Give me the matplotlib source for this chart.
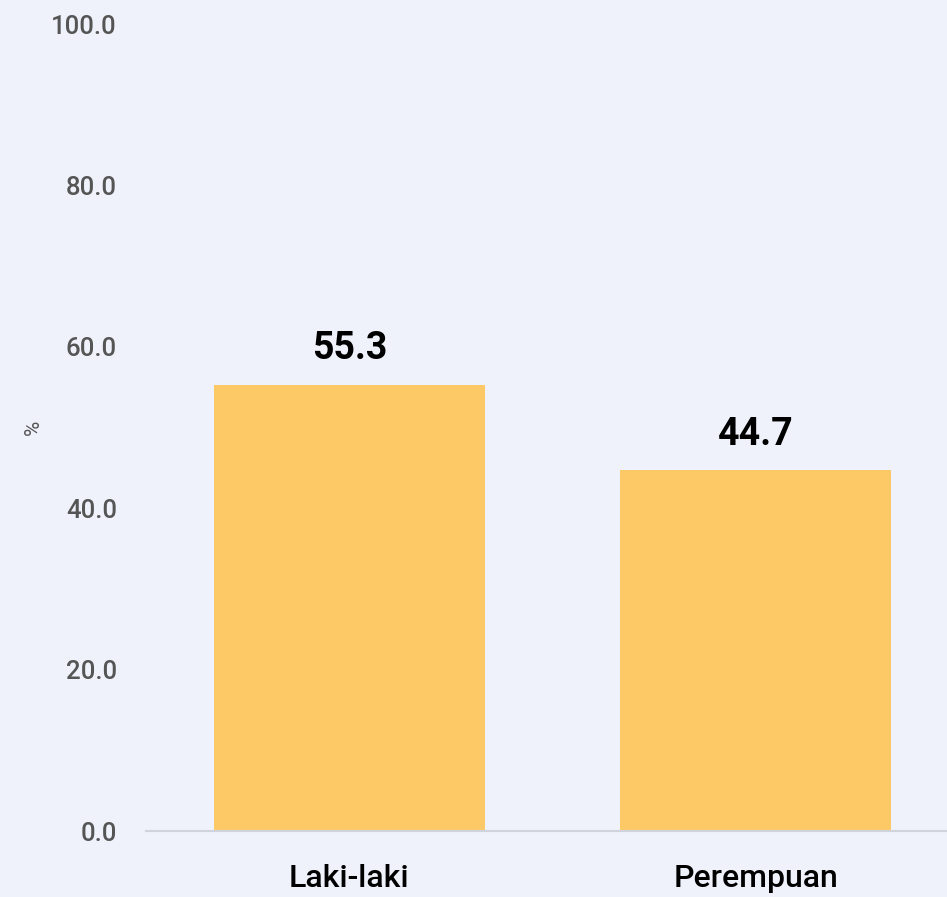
import matplotlib.pyplot as plt
import numpy as np

categories = ['Laki-laki', 'Perempuan']
values = [55.3, 44.7]
yticks = [0, 20, 40, 60, 80, 100]

BG = '#EFF2FA'
BAR = '#FDC967'

plt.rcParams['font.family'] = ['Roboto', 'DejaVu Sans']

fig = plt.figure(figsize=(9.47, 8.97), dpi=100, facecolor=BG)
ax = fig.add_axes([146 / 947, 1 - 831 / 897, (947 - 146) / 947, (831 - 24) / 897])
ax.set_facecolor(BG)

x = np.arange(len(categories))
ax.bar(x, values, width=0.667, color=BAR, zorder=2)
for xi, v in zip(x, values):
    ax.text(xi, v + 2.2, f'{v:.1f}', ha='center', va='bottom',
            fontsize=27, fontweight='bold', color='black')

ax.set_xlim(-0.5, 1.47)
ax.set_ylim(0, 100)
ax.set_yticks(yticks)
ax.set_yticklabels([f'{t:.1f}' for t in yticks], fontsize=18.5,
                   color='#555555', fontweight='medium')
ax.set_xticks(x)
ax.set_xticklabels(categories, fontsize=23, color='black', fontweight='medium')
ax.tick_params(axis='y', length=0, pad=21)
ax.tick_params(axis='x', length=0, pad=24)
ax.set_ylabel('%', fontsize=15, color='#555555', labelpad=6)

for side in ['top', 'right', 'left']:
    ax.spines[side].set_visible(False)
ax.spines['bottom'].set_color('#CFD3DC')
ax.spines['bottom'].set_linewidth(1.5)

fig.savefig('out.png', dpi=100, facecolor=BG)
